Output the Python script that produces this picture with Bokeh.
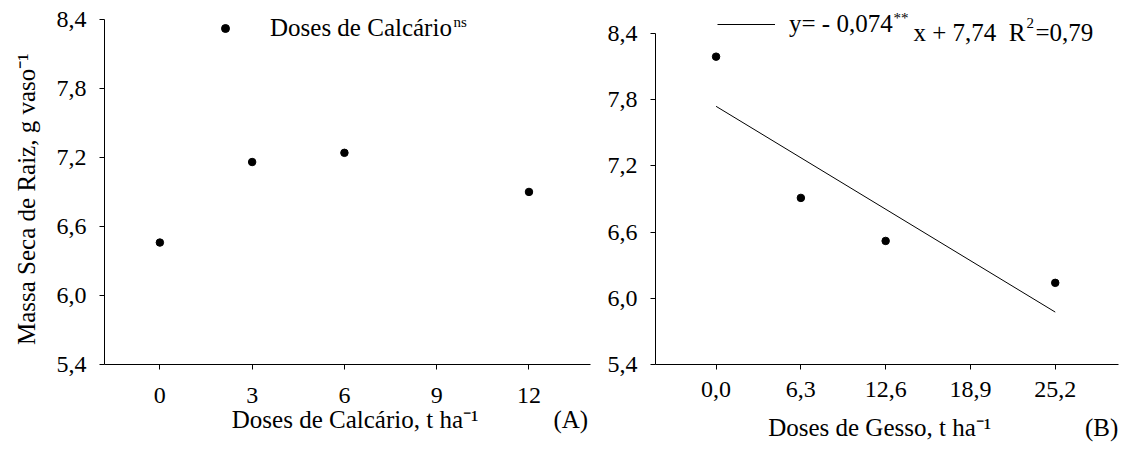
import math
from bokeh.plotting import figure
from bokeh.layouts import row
from bokeh.models import Range1d, FixedTicker, Label, Legend, LegendItem
from bokeh.embed import file_html
from bokeh.resources import INLINE

# ---------------- data ----------------
calc_x = [0, 3, 6, 12]
calc_y = [6.46, 7.16, 7.24, 6.90]
gesso_x = [0.0, 6.3, 12.6, 25.2]
gesso_y = [8.19, 6.91, 6.52, 6.14]
fit_x = [0.0, 25.2]
fit_y = [7.74, 5.875]
y_ticks = [5.4, 6.0, 6.6, 7.2, 7.8, 8.4]
y_tick_labels = ["5,4", "6,0", "6,6", "7,2", "7,8", "8,4"]
calc_ticks = [0, 3, 6, 9, 12]
calc_tick_labels = ["0", "3", "6", "9", "12"]
gesso_ticks = [0.0, 6.3, 12.6, 18.9, 25.2]
gesso_tick_labels = ["0,0", "6,3", "12,6", "18,9", "25,2"]

FONT = "Liberation Serif"
NB = "\u00a0"
Y_AX = (5.4, 8.4)
X1_RANGE = (-1.8, 14.0)
X2_RANGE = (-4.5, 29.9)
H = 454
FRAME_TOP = 2

# geometry (page pixels): axis left, frame right, y of 8.4 tick, axis bottom
L1, R1, T1, B1 = 104, 590, 19, 367
L2, R2, T2, B2 = 655, 1118, 33, 364
W1 = 600
W2 = 1126 - W1


def conv(L, R, T, B, xr):
    def fx(sx):
        return xr[0] + (sx - L) / (R - L) * (xr[1] - xr[0])

    def fy(sy):
        return Y_AX[0] + (B - sy) / (B - T) * (Y_AX[1] - Y_AX[0])

    return fx, fy


def make_fig(x0, width, xr, xticks, xlabels, L, R, T, B, xtitle, tick_so, title_so):
    fx, fy = conv(L, R, T, B, xr)
    p = figure(width=width, height=H, x_range=Range1d(*xr),
               y_range=Range1d(Y_AX[0], fy(FRAME_TOP)),
               output_backend="svg", toolbar_location=None, title=None,
               min_border_left=L - x0, min_border_right=x0 + width - R,
               min_border_top=FRAME_TOP, min_border_bottom=H - B)
    p.outline_line_color = None
    p.grid.visible = False
    p.background_fill_color = "white"
    p.border_fill_color = "white"
    for ax in (p.xaxis[0], p.yaxis[0]):
        ax.axis_line_color = "black"
        ax.axis_line_width = 1
        ax.major_tick_line_color = "black"
        ax.major_tick_out = 5
        ax.major_tick_in = 0
        ax.minor_tick_line_color = None
        ax.major_label_text_font = FONT
        ax.major_label_text_font_size = "24px"
        ax.major_label_text_color = "black"
        ax.axis_label_text_font = FONT
        ax.axis_label_text_font_size = "25px"
        ax.axis_label_text_font_style = "normal"
        ax.axis_label_text_color = "black"
    p.yaxis[0].bounds = Y_AX
    p.xaxis[0].ticker = FixedTicker(ticks=list(xticks))
    p.xaxis[0].major_label_overrides = {t: l for t, l in zip(xticks, xlabels)}
    p.xaxis[0].major_label_standoff = tick_so
    p.xaxis[0].axis_label = xtitle
    p.xaxis[0].axis_label_standoff = title_so
    p.yaxis[0].ticker = FixedTicker(ticks=list(y_ticks))
    p.yaxis[0].major_label_overrides = {t: l for t, l in zip(y_ticks, y_tick_labels)}
    p.yaxis[0].major_label_standoff = 13
    return p, fx, fy


def lab(p, x, y, text, size):
    p.add_layout(Label(x=x, y=y, text=text, text_font=FONT, text_font_size=size,
                       text_color="black", text_align="left", text_baseline="alphabetic"))


def legend(renderer, text, loc, gw, standoff, gh):
    return Legend(items=[LegendItem(label=text, renderers=[renderer])],
                  location=loc, glyph_width=gw, glyph_height=gh, label_height=gh,
                  label_standoff=standoff, padding=0, margin=0, spacing=0,
                  border_line_color=None, background_fill_alpha=0,
                  label_text_font=FONT, label_text_font_size="25px",
                  label_text_color="black")


# ---------------- left panel ----------------
xt1 = NB * 20 + "Doses de Calcário, t ha\u207b\u00b9" + NB * 12 + "(A)"
p1, fx1, fy1 = make_fig(0, W1, X1_RANGE, calc_ticks, calc_tick_labels,
                        L1, R1, T1, B1, xt1, 18, 0)
p1.yaxis[0].axis_label = "Massa Seca de Raiz, g vaso\u207b\u00b9" + NB * 5
p1.yaxis[0].axis_label_standoff = 14
r1 = p1.scatter(calc_x, calc_y, size=7.5, color="black")
p1.add_layout(legend(r1, "Doses de Calcário", (111, B1 - 45), 20, 35, 26))
lab(p1, fx1(453), fy1(22), "ns", "15px")

# ---------------- right panel ----------------
xt2 = NB * 18 + "Doses de Gesso, t ha\u207b\u00b9" + NB * 15 + "(B)"
p2, fx2, fy2 = make_fig(W1, W2, X2_RANGE, gesso_ticks, gesso_tick_labels,
                        L2, R2, T2, B2, xt2, 12, 14)
p2.scatter(gesso_x, gesso_y, size=7.5, color="black")
rl = p2.line(fit_x, fit_y, line_color="black", line_width=1)
p2.add_layout(legend(rl, "y= - 0,074", (717 - L2, B2 - 39), 58, 14, 30))
lab(p2, fx2(893), fy2(17), "**", "15px")
lab(p2, fx2(913), fy2(32), "x + 7,74" + NB + " R", "25px")
lab(p2, fx2(1026), fy2(22), "2", "15px")
lab(p2, fx2(1035), fy2(32), "=0,79", "25px")

layout = row(p1, p2)
open("out.html", "w").write(file_html(layout, INLINE))
